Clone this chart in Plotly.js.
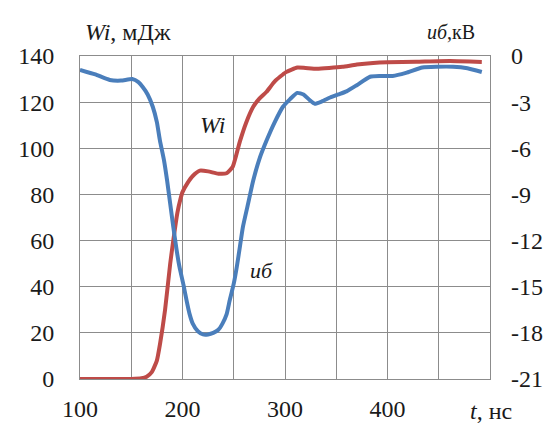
<!DOCTYPE html>
<html><head><meta charset="utf-8">
<script src="https://cdn.plot.ly/plotly-3.0.1.min.js"></script>
<style>html,body{margin:0;padding:0;background:#fff}#c{width:557px;height:423px}</style>
</head><body><div id="c"></div>
<script>
// Wi energy curve (mJ) vs time (ns)
const tWi = [100,130,150,160,165,170,175,178,183,188,191,195,198,200,205,210,217,225,235,243,249,256,262,269,275,282,290,301,312,320,331,343,356,370,386,400,428,461,492];
const Wi  = [0,0,0,0.3,1,3,8,15,30,50,60,72,78,81,85,88,90.3,90,89,89.2,92,103,111,118,121.5,124.5,129,133,135,134.8,134.5,134.8,135.3,136.3,137,137.3,137.5,137.8,137.4];
// u_b voltage curve (kV) vs time (ns)
const tU = [100,115,129,140,151,157,161,166,171,175,178,182,185,188,191,194,197,201,204,207,210,215,220,225,230,235,239,243,246,250,253,256,259,264,269,275,282,290,298,305,312,318,324,329,336,344,352,360,370,383,393,405,418,434,448,464,478,492];
const U  = [-0.9,-1.2,-1.56,-1.6,-1.5,-1.7,-2.0,-2.5,-3.3,-4.3,-5.5,-6.8,-8.1,-9.6,-11.1,-12.5,-13.7,-14.9,-15.9,-16.8,-17.4,-17.9,-18.1,-18.1,-18.0,-17.8,-17.4,-16.8,-15.9,-14.8,-13.7,-12.4,-11.1,-9.6,-8.1,-6.7,-5.5,-4.3,-3.3,-2.8,-2.4,-2.5,-2.86,-3.1,-2.95,-2.7,-2.5,-2.3,-1.9,-1.35,-1.3,-1.3,-1.1,-0.75,-0.7,-0.7,-0.8,-1.04];
// ticks
const xTickVals = [100,150,200,250,300,350,400,450,500];
const xTickText = ['100','','200','','300','','400','',''];
const yLeftTicks = [0,20,40,60,80,100,120,140];
const yRightTicks = [-21,-18,-15,-12,-9,-6,-3,0];
const yRightText = ['-21','-18','-15','-12','-9','-6','-3','0'];

const blue = '#4a7ebb', red = '#be4b48';
const fnt = {family:'Liberation Serif, Times New Roman, serif', size:24, color:'#1a1a1a'};

const data = [
  {x:tU, y:U, yaxis:'y2', type:'scatter', mode:'lines', line:{color:blue, width:4, shape:'spline', smoothing:0.5}, hoverinfo:'none'},
  {x:tWi, y:Wi, type:'scatter', mode:'lines', line:{color:red, width:4, shape:'spline', smoothing:0.5}, hoverinfo:'none'}
];
const layout = {
  width:557, height:423,
  margin:{l:80, r:67, t:56, b:44},
  paper_bgcolor:'#fff', plot_bgcolor:'#fff',
  showlegend:false,
  font:fnt,
  xaxis:{range:[100,500], tickvals:xTickVals, ticktext:xTickText, showgrid:true, gridcolor:'#8c8c8c', gridwidth:1,
         showline:true, linecolor:'#8c8c8c', mirror:true, zeroline:false, ticks:'', tickfont:fnt, ticklabelstandoff:8},
  yaxis:{range:[0,140], tickvals:yLeftTicks, showgrid:true, gridcolor:'#8c8c8c', gridwidth:1,
         showline:true, linecolor:'#8c8c8c', mirror:true, zeroline:false, ticks:'', tickfont:fnt, ticklabelstandoff:20},
  yaxis2:{range:[-21,0], tickvals:yRightTicks, ticktext:yRightText, overlaying:'y', side:'right', showgrid:false, zeroline:false,
          showline:false, ticks:'', tickfont:fnt, ticklabelstandoff:20},
  annotations:[
    {xref:'paper', yref:'paper', x:0.007, y:1.074, xanchor:'left', yanchor:'middle', showarrow:false,
     text:'<i>Wi</i>, мДж', font:fnt},
    {xref:'paper', yref:'paper', x:0.968, y:1.074, xanchor:'right', yanchor:'middle', showarrow:false,
     text:'<i>uб</i>,кВ', font:Object.assign({}, fnt, {size:20})},
    {xref:'paper', yref:'paper', x:0.946, y:-0.1, xanchor:'left', yanchor:'middle', showarrow:false,
     text:'<i>t</i>, нс', font:fnt},
    {xref:'x', yref:'y', x:229.6, y:110, showarrow:false, text:'<i>Wi</i>', font:fnt},
    {xref:'x', yref:'y', x:277, y:47, showarrow:false, text:'<i>uб</i>', font:Object.assign({}, fnt, {size:22})}
  ]
};
Plotly.newPlot('c', data, layout, {staticPlot:true, displayModeBar:false});
</script></body></html>
